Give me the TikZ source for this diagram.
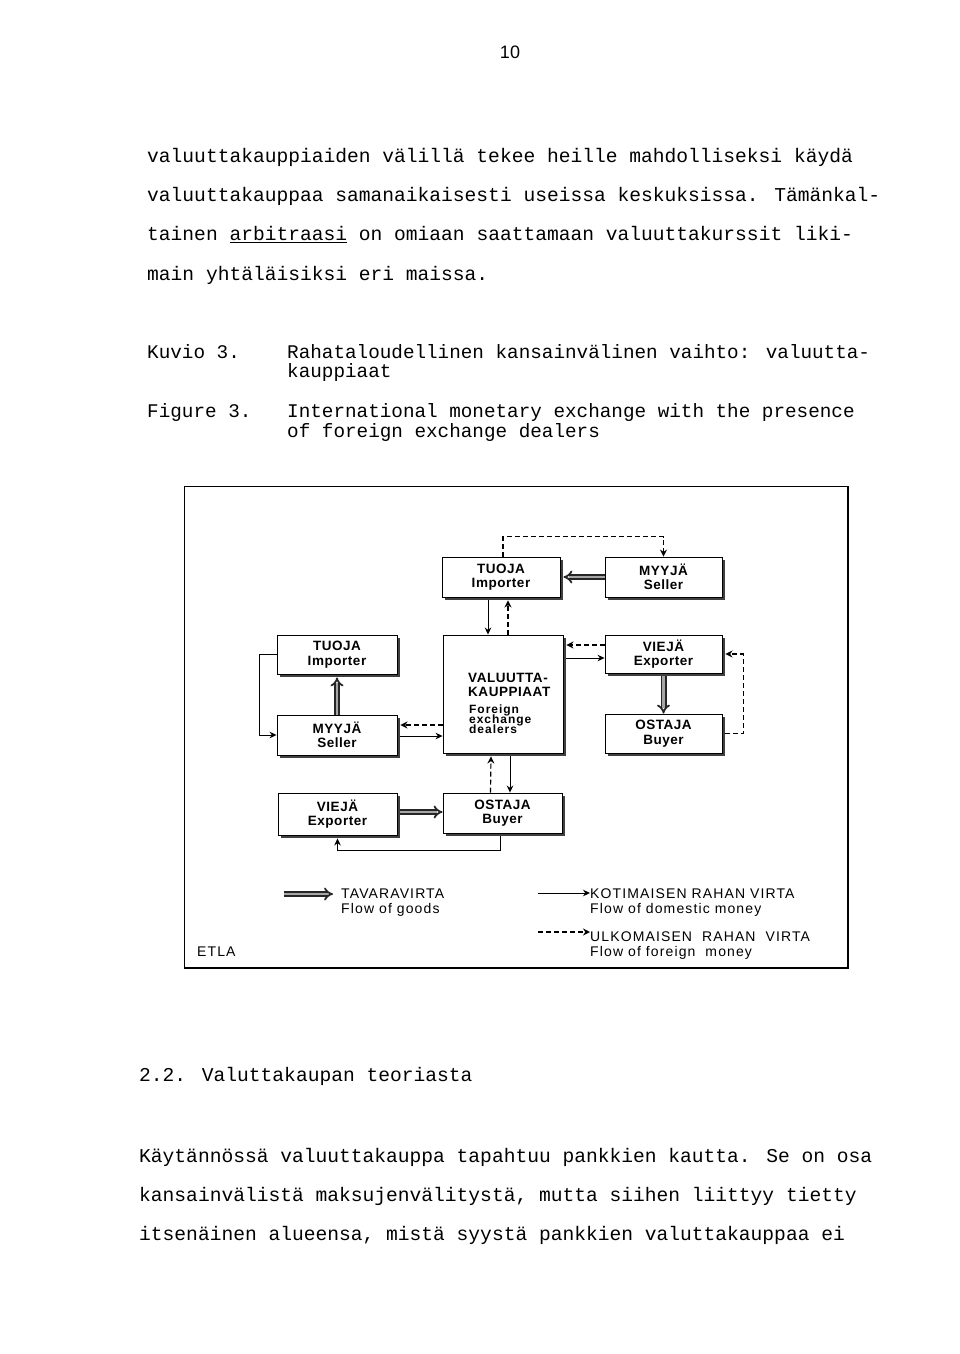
\documentclass[tikz,border=0pt]{standalone}
\usepackage{fontspec}
\newfontfamily\tw{Liberation Mono}
\newfontfamily\hv[LetterSpace=4]{Liberation Sans}
\newfontfamily\hvl[LetterSpace=8]{Liberation Sans}
\newfontfamily\hvn{Liberation Sans}
\usetikzlibrary{calc,arrows.meta,shadows}
\tikzset{
  body/.style={anchor=base west, inner sep=0pt, font=\tw\fontsize{19.6}{20}\selectfont},
  capt/.style={anchor=base west, inner sep=0pt, font=\tw\fontsize{19.3}{20}\selectfont},
  box/.style={draw=black, line width=0.9pt, fill=white, inner sep=0pt, align=center,
    font=\hv\bfseries\fontsize{13.5}{14.5}\selectfont,
    drop shadow={shadow xshift=3pt, shadow yshift=-3pt, fill=black!75, opacity=1},
    minimum width=118pt, minimum height=40pt},
  vtext/.style={anchor=base west, inner sep=0pt, font=\hv\bfseries\fontsize{13.5}{14}\selectfont},
  vsmall/.style={anchor=base west, inner sep=0pt, font=\hvl\bfseries\fontsize{12}{12}\selectfont},
  legend/.style={anchor=base west, inner sep=0pt, font=\hvl\fontsize{14}{14}\selectfont},
  dm/.style={line width=0.9pt, -{Stealth[length=7pt,width=6.5pt]}},
  fm/.style={line width=1.2pt, dash pattern=on 5pt off 3pt, -{Stealth[length=7pt,width=7pt,open]}},
  goods/.style={draw=black!85, double=black!35, double distance=2.4pt, line width=1.8pt, -{Implies}}
}
\begin{document}
\begin{tikzpicture}[x=1pt,y=-1pt]
\useasboundingbox (0,0) rectangle (960,1354);
\fill[white] (0,0) rectangle (960,1354);

% page number
\node[anchor=base, inner sep=0pt, font=\hvn\fontsize{18}{20}\selectfont] (pnum) at (510,59) {10};

% top paragraph
\node[body] (l1) at (147,162) {valuuttakauppiaiden välillä tekee heille mahdolliseksi käydä};
\node[body] (l2) at (147,201.5) {valuuttakauppaa samanaikaisesti useissa keskuksissa. Tämänkal-};
\node[body] (l3) at (147,240.5) {tainen \underline{arbitraasi} on omiaan saattamaan valuuttakurssit liki-};
\node[body] (l4) at (147,280) {main yhtäläisiksi eri maissa.};

% captions
\node[capt] (k1) at (147,358) {Kuvio 3.};
\node[capt] (k2) at (287,358) {Rahataloudellinen kansainvälinen vaihto: valuutta-};
\node[capt] (k3) at (287,377) {kauppiaat};
\node[capt] (f1) at (147,417) {Figure 3.};
\node[capt] (f2) at (287,417) {International monetary exchange with the presence};
\node[capt] (f3) at (287,437) {of foreign exchange dealers};

% frame
\draw[line width=1.2pt] (184.5,486.5) rectangle (848,968);

% boxes
\node[box] (tT) at (501,577) {TUOJA\\Importer};
\node[box, minimum width=117pt] (tM) at (663.5,577) {MYYJÄ\\Seller};
\node[box, minimum width=120pt, minimum height=39pt] (lT) at (337,654.5) {TUOJA\\Importer};
\node[box, minimum width=120pt] (lM) at (337,735) {MYYJÄ\\Seller};
\node[box, minimum width=120pt, minimum height=118pt] (V) at (503,694) {};
\node[box, minimum width=117pt, minimum height=38pt] (rV) at (663.5,654) {VIEJÄ\\Exporter};
\node[box, minimum width=117pt, minimum height=39pt] (rO) at (663.5,733.5) {OSTAJA\\Buyer};
\node[box, minimum width=119pt, minimum height=42pt] (bV) at (337.5,814) {VIEJÄ\\Exporter};
\node[box, minimum width=119pt] (bO) at (502.5,813) {OSTAJA\\Buyer};

% dealer box text
\node[vtext] (v1) at (468,682) {VALUUTTA-};
\node[vtext] (v2) at (468,696) {KAUPPIAAT};
\node[vsmall] (v3) at (469,713) {Foreign};
\node[vsmall] (v4) at (469,723) {exchange};
\node[vsmall] (v5) at (469,733) {dealers};

% connectors
\draw[fm] ($(tT.north)+(2,0)$) -- ++(0,-20) -| (tM.north);
\draw[goods] (tM.west) -- ($(tT.east)+(3,0)$);
\draw[dm] ($(tT.south)+(-13,3)$) -- ($(V.north)+(-15,0)$);
\draw[fm] ($(V.north)+(5,0)$) -- ($(tT.south)+(7,3)$);

\draw[dm] (lT.west) -- ++(-17,0) |- (lM.west);
\draw[goods] (lM.north) -- ($(lT.south)+(0,3)$);
\draw[fm] ($(V.west)+(0,31)$) -- ($(lM.east)+(3,-10)$);
\draw[dm] ($(lM.east)+(3,1)$) -- ($(V.west)+(0,42)$);

\draw[fm] ($(rV.west)+(0,-9)$) -- ($(V.east)+(3,-49)$);
\draw[dm] ($(V.east)+(3,-36)$) -- ($(rV.west)+(0,4)$);
\draw[goods] ($(rV.south)+(0,3)$) -- (rO.north);
\draw[fm] ($(rO.east)+(3,0)$) -- ++(18,0) |- ($(rV.east)+(3,0)$);

\draw[fm] ($(bO.north)+(-12,0)$) -- ($(V.south)+(-12,3)$);
\draw[dm] ($(V.south)+(7,3)$) -- ($(bO.north)+(7.5,0)$);
\draw[goods] ($(bV.east)+(3,-2)$) -- ($(bO.west)+(0,-1)$);
\draw[dm] ($(bO.south)+(-2.5,3)$) -- ++(0,14) -| ($(bV.south)+(0,3)$);

% legend
\coordinate (g1) at (284,894);
\coordinate (g2) at (333,894);
\draw[goods] (g1) -- (g2);
\node[legend] (t1) at (341,898) {TAVARAVIRTA};
\node[legend] (t2) at (341,913) {Flow of goods};
\coordinate (d1) at (538,893);
\coordinate (d2) at (590,893);
\draw[dm] (d1) -- (d2);
\node[legend] (t3) at (590,898) {KOTIMAISEN RAHAN VIRTA};
\node[legend] (t4) at (590,913) {Flow of domestic money};
\coordinate (e1) at (538,932);
\coordinate (e2) at (590,932);
\draw[fm] (e1) -- (e2);
\node[legend] (t5) at (590,941) {ULKOMAISEN\ \ RAHAN\ \ VIRTA};
\node[legend] (t6) at (590,956) {Flow of foreign\ \ money};
\node[legend] (etla) at (197,956) {ETLA};

% bottom text
\node[body] (h1) at (139,1081) {2.2. Valuttakaupan teoriasta};
\node[body] (b1) at (139,1162) {Käytännössä valuuttakauppa tapahtuu pankkien kautta. Se on osa};
\node[body] (b2) at (139,1201) {kansainvälistä maksujenvälitystä, mutta siihen liittyy tietty};
\node[body] (b3) at (139,1240) {itsenäinen alueensa, mistä syystä pankkien valuttakauppaa ei};
\end{tikzpicture}
\end{document}
